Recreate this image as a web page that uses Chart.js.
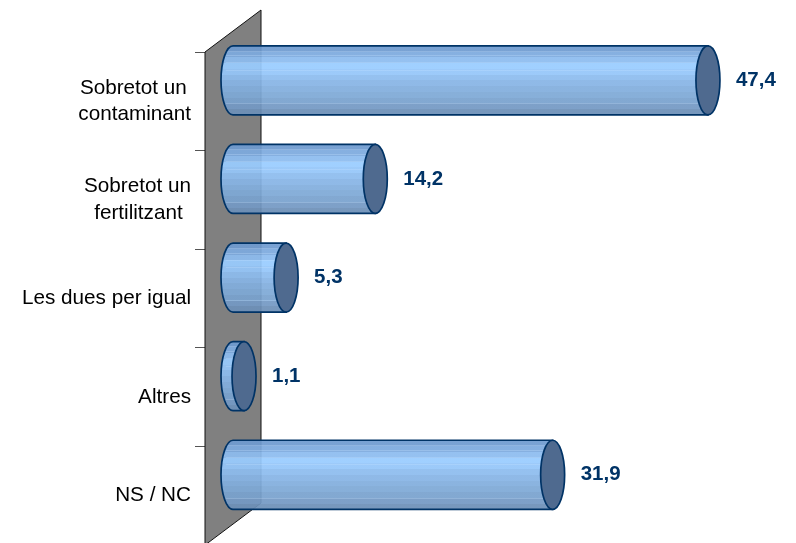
<!DOCTYPE html>
<html lang="ca">

<head>
    <meta charset="UTF-8">
    <title>Contaminant o fertilitzant</title>
    <script src="https://cdn.jsdelivr.net/npm/chart.js"></script>
    <style>
        html, body { margin: 0; height: 543px; overflow: hidden; background: #fff; }
        canvas { display: block; }
    </style>
</head>

<body>
    <!-- la paret queda tallada per baix, per aixo el canvas es mes alt que la finestra -->
    <canvas id="chartBarres" width="796" height="576"></canvas>
</body>

</html>
<script>
    const categories = [
        ['Sobretot un\u2009', 'contaminant'],
        ['Sobretot un', 'fertilitzant\u2009\u2009'],
        'Les dues per igual',
        'Altres',
        'NS / NC'
    ];
    const valors = [47.4, 14.2, 5.3, 1.1, 31.9];

    // profunditat de l'efecte 3D
    const DEPTH_X = 28;
    const DEPTH_Y = 21;
    const CAP_RX = 12;

    const BANDS = ['#6f9bd0', '#7daade', '#8dbcef', '#99ccff', '#95c6f9', '#8dbcee', '#87b4e5', '#82aedd',
        '#7ea9d6', '#79a2ce', '#7499c4', '#6d90b8'];
    const STREAKS = [0.07, 0.14, 0.24, 0.35, 0.83];

    function cylinderGradient(ctx, top, bottom) {
        const grad = ctx.createLinearGradient(0, top, 0, bottom);
        BANDS.forEach(function (color, i) {
            grad.addColorStop(i / BANDS.length, color);
            grad.addColorStop((i + 1) / BANDS.length, color);
        });
        return grad;
    }

    // paret gris del fons
    const wallPlugin = {
        id: 'wall',
        beforeDatasetsDraw(chart) {
            const { ctx, chartArea: a } = chart;
            const backX = a.left + DEPTH_X * 2;
            const topY = a.top - DEPTH_Y * 2;
            const bottomY = a.bottom - DEPTH_Y * 2;
            ctx.save();
            ctx.beginPath();
            ctx.moveTo(a.left, a.top);
            ctx.lineTo(backX, topY);
            ctx.lineTo(backX, bottomY);
            ctx.lineTo(a.left, a.bottom);
            ctx.closePath();
            ctx.fillStyle = '#808080';
            ctx.fill();
            ctx.strokeStyle = '#111';
            ctx.lineWidth = 1;
            ctx.stroke();
            ctx.restore();
        }
    };

    // cilindres i etiquetes a partir de les barres del grafic
    const cylinderPlugin = {
        id: 'cylinders',
        afterDatasetsDraw(chart) {
            const { ctx } = chart;
            const x0 = chart.scales.x.getPixelForValue(0) + DEPTH_X;
            chart.getDatasetMeta(0).data.forEach(function (bar, i) {
                const x1 = bar.x + DEPTH_X;
                const cy = bar.y - DEPTH_Y;
                const ry = bar.height / 2;

                ctx.save();
                ctx.beginPath();
                ctx.ellipse(x0, cy, CAP_RX, ry, 0, -Math.PI / 2, Math.PI / 2, true);
                ctx.lineTo(x1, cy + ry);
                ctx.lineTo(x1, cy - ry);
                ctx.closePath();
                ctx.globalAlpha = 0.93;
                ctx.fillStyle = cylinderGradient(ctx, cy - ry, cy + ry);
                ctx.fill();

                // reflexos fins
                ctx.globalAlpha = 0.3;
                ctx.strokeStyle = '#c4e2ff';
                ctx.lineWidth = 1;
                STREAKS.forEach(function (f) {
                    const y = Math.round(cy - ry + f * ry * 2) + 0.5;
                    ctx.beginPath();
                    ctx.moveTo(x0 - CAP_RX * 0.6, y);
                    ctx.lineTo(x1, y);
                    ctx.stroke();
                });

                ctx.globalAlpha = 1;
                ctx.beginPath();
                ctx.ellipse(x0, cy, CAP_RX, ry, 0, -Math.PI / 2, Math.PI / 2, true);
                ctx.lineTo(x1, cy + ry);
                ctx.lineTo(x1, cy - ry);
                ctx.closePath();
                ctx.strokeStyle = '#003366';
                ctx.lineWidth = 1.7;
                ctx.stroke();

                ctx.beginPath();
                ctx.ellipse(x1, cy, CAP_RX, ry, 0, 0, Math.PI * 2);
                ctx.fillStyle = '#4f6a8f';
                ctx.fill();
                ctx.stroke();

                ctx.fillStyle = '#003366';
                ctx.font = 'bold 20.5px "Liberation Sans"';
                ctx.textAlign = 'left';
                ctx.textBaseline = 'middle';
                ctx.fillText(String(valors[i]).replace('.', ','), x1 + 28, cy);
                ctx.restore();
            });
        }
    };

    const chartBarres = new Chart(document.getElementById('chartBarres'), {
        type: 'bar',
        data: {
            labels: categories,
            datasets: [{
                data: valors,
                backgroundColor: 'rgba(0,0,0,0)',
                barPercentage: 0.7,
                categoryPercentage: 1
            }]
        },
        options: {
            indexAxis: 'y',
            responsive: false,
            animation: false,
            layout: { autoPadding: false, padding: { top: 52, right: 90, bottom: 0, left: 0 } },
            plugins: {
                legend: { display: false },
                tooltip: { enabled: false }
            },
            scales: {
                x: {
                    display: false,
                    min: 0,
                    max: 50
                },
                y: {
                    afterFit(scale) { scale.width = 205; },
                    grid: {
                        drawOnChartArea: false,
                        color: '#555',
                        tickLength: 10
                    },
                    border: { color: '#111' },
                    ticks: {
                        color: '#000',
                        padding: 4,
                        autoSkip: false,
                        font: { size: 20.7, family: '"Liberation Sans"', lineHeight: 1.3 }
                    }
                }
            }
        },
        plugins: [wallPlugin, cylinderPlugin]
    });
</script>
